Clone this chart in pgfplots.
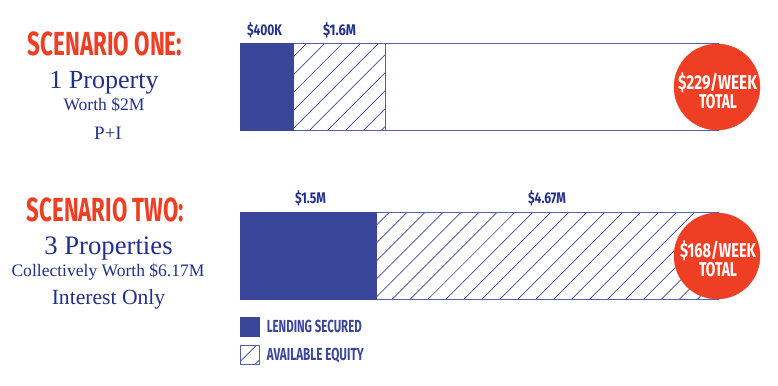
\documentclass[border=0pt]{standalone}
\usepackage{pgfplots}
\pgfplotsset{compat=1.18}
\usepackage{fontspec}
\usepackage{graphicx}
\usetikzlibrary{patterns.meta}
\newfontfamily\fira{Fira Sans}
\newfontfamily\ser{Liberation Serif}
\definecolor{navy}{RGB}{58,70,153}
\definecolor{edge}{RGB}{85,96,180}
\definecolor{ink}{RGB}{35,47,140}
\definecolor{tomato}{RGB}{238,62,36}
% condensed bold text: size, target width, text
\newcommand\cw[3]{{\fira\bfseries\fontsize{#1}{#1}\selectfont\resizebox{#2}{\height}{#3}}}
\pgfplotsset{
  canvas/.style={at={(0,0)}, anchor=south west, scale only axis,
    width=778bp, height=386bp, xmin=0, xmax=778, ymin=0, ymax=386,
    y dir=reverse, hide axis, clip=false},
  sq/.style={legend image code/.code={\path[##1, line width=0.8bp] (0bp,-9.5bp) rectangle (19bp,9.5bp);}},
}
\begin{document}
\begin{tikzpicture}
\begin{axis}[canvas,
  xbar stacked, bar width=87,
  legend style={at={(axis cs:240,317)}, anchor=north west, draw=none, fill=none,
    inner sep=0pt, outer sep=0pt, row sep=8bp, text=navy,
    nodes={inner sep=0pt, outer sep=0pt},
    /tikz/every odd column/.append style={column sep=7bp}},
  legend cell align=left]
\addplot[draw=none, fill=none, forget plot] coordinates {(240,87) (240,256)};
\addplot[fill=navy, draw=navy, line width=0.8bp, sq] coordinates {(53,87) (136,256)};
\addlegendentry{\cw{17.5bp}{95bp}{LENDING SECURED}}
\addplot[pattern={Lines[angle=45,distance=12.7bp,line width=0.7bp]}, pattern color=navy,
  draw=edge, line width=0.8bp, sq] coordinates {(92,87) (342,256)};
\addlegendentry{\cw{17.5bp}{97bp}{AVAILABLE EQUITY}}
\addplot[fill=white, draw=edge, line width=0.8bp, forget plot] coordinates {(333,87) (0,256)};
\end{axis}
\begin{axis}[canvas]
\addplot[only marks, mark=*, mark size=43bp, color=tomato, mark options={draw=tomato, fill=tomato}]
  coordinates {(717,87) (717,256)};
\end{axis}
\begin{axis}[canvas]
\path (axis cs:0,0) rectangle (axis cs:778,386);
\tikzset{t/.style={anchor=base, inner sep=0pt, outer sep=0pt}}
% left titles
\node[t, text=tomato] at (axis cs:105,55) {\cw{33.4bp}{154bp}{SCENARIO ONE:}};
\node[t, text=ink, font=\ser\fontsize{26.2}{26.2}\selectfont] at (axis cs:104,88) {1 Property};
\node[t, text=ink, font=\ser\fontsize{17.6}{17.6}\selectfont] at (axis cs:104,110) {Worth \$2M};
\node[t, text=ink, font=\ser\fontsize{19}{19}\selectfont] at (axis cs:108,139) {P+I};
\node[t, text=tomato] at (axis cs:105.5,221) {\cw{33.4bp}{157bp}{SCENARIO TWO:}};
\node[t, text=ink, font=\ser\fontsize{26.8}{26.8}\selectfont] at (axis cs:108.5,254) {3 Properties};
\node[t, text=ink, font=\ser\fontsize{17.6}{17.6}\selectfont] at (axis cs:108,276) {Collectively Worth \$6.17M};
\node[t, text=ink, font=\ser\fontsize{21.7}{21.7}\selectfont] at (axis cs:108.5,304) {Interest Only};
% bar labels
\node[t, text=ink] at (axis cs:264.5,35) {\cw{15.5bp}{35bp}{\$400K}};
\node[t, text=ink] at (axis cs:339.5,35) {\cw{15.5bp}{33bp}{\$1.6M}};
\node[t, text=ink] at (axis cs:310.5,203) {\cw{15.5bp}{31bp}{\$1.5M}};
\node[t, text=ink] at (axis cs:547,203) {\cw{15.5bp}{38bp}{\$4.67M}};
% circle texts
\node[t, text=white] at (axis cs:717.5,89) {\cw{20bp}{79bp}{\$229/WEEK}};
\node[t, text=white] at (axis cs:718,108) {\cw{20bp}{38bp}{TOTAL}};
\node[t, text=white] at (axis cs:718,257) {\cw{20bp}{76bp}{\$168/WEEK}};
\node[t, text=white] at (axis cs:718,276) {\cw{20bp}{38bp}{TOTAL}};
\end{axis}
\end{tikzpicture}
\end{document}
